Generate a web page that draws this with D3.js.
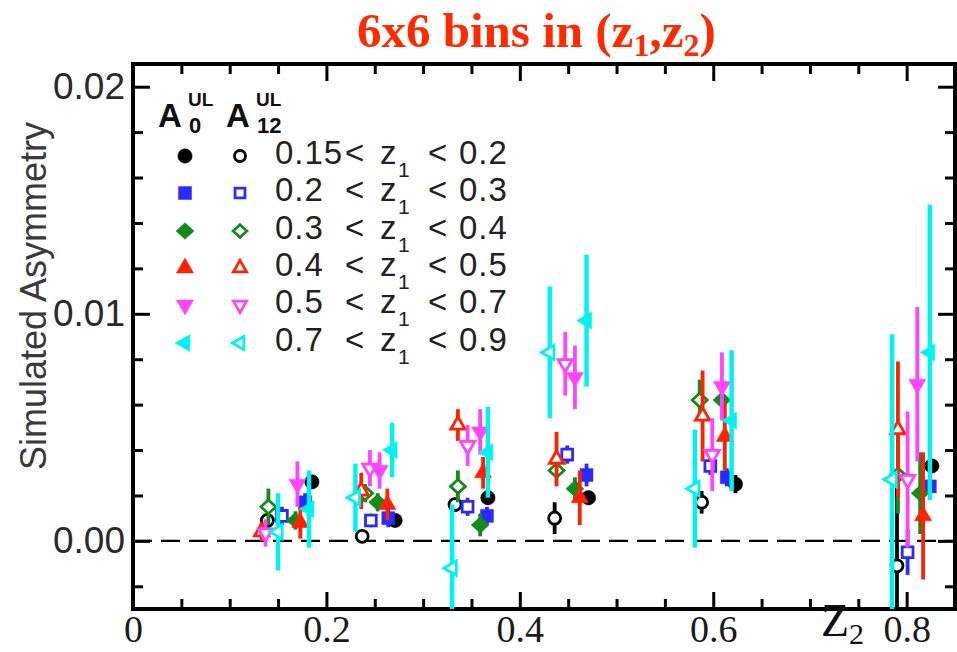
<!DOCTYPE html>
<html><head><meta charset="utf-8">
<script src="https://cdn.jsdelivr.net/npm/d3@7"></script>
<style>body{margin:0;background:#fff} svg{display:block}</style>
</head><body><svg id="c" width="957" height="652"></svg>
<script>
// ---------------- data ----------------
const z1Low  = ["0.15","0.2","0.3","0.4","0.5","0.7"];
const z1High = ["0.2","0.3","0.4","0.5","0.7","0.9"];
const seriesColors = ["#000000","#2b2bff","#138a1c","#ff2200","#ff44ff","#00f2f2"];
const seriesShapes = ["circle","square","diamond","up","down","left"];
const xTicks = [0, 0.2, 0.4, 0.6, 0.8];
const yTicks = [0, 0.01, 0.02];

// A0^UL (filled markers): z2 position, value, error for each z1 bin (rows) x 6 z2 bins
const a0Z2 = [
 [0.185,0.271,0.367,0.471,0.623,0.826],
 [0.178,0.264,0.366,0.469,0.614,0.824],
 [0.168,0.253,0.359,0.457,0.609,0.814],
 [0.173,0.263,0.362,0.462,0.612,0.817],
 [0.170,0.255,0.359,0.457,0.609,0.811],
 [0.182,0.268,0.367,0.469,0.619,0.824]];
const a0Val = [
 [0.0026,0.0009,0.0019,0.0019,0.0025,0.0033],
 [0.0017,0.0010,0.0011,0.0029,0.0028,0.0024],
 [0.0009,0.0017,0.0007,0.0023,0.0062,0.0021],
 [0.0008,0.0016,0.0030,0.0019,0.0046,0.0011],
 [0.0025,0.0031,0.0048,0.0072,0.0068,0.0069],
 [0.0014,0.0040,0.0039,0.0097,0.0053,0.0083]];
const a0Err = [
 [0.0002,0.0002,0.0003,0.0003,0.0004,0.0002],
 [0.0004,0.0004,0.0004,0.0005,0.0004,0.0004],
 [0.0004,0.0004,0.0005,0.0005,0.0003,0.0018],
 [0.0007,0.0007,0.0007,0.0012,0.0015,0.0028],
 [0.0010,0.0008,0.0010,0.0014,0.0015,0.0034],
 [0.0017,0.0012,0.0020,0.0029,0.0031,0.0065]];

// A12^UL (open markers)
const a12Z2 = [
 [0.139,0.237,0.333,0.436,0.588,0.790],
 [0.154,0.246,0.346,0.449,0.597,0.801],
 [0.140,0.240,0.336,0.438,0.586,0.791],
 [0.133,0.236,0.336,0.438,0.589,0.791],
 [0.137,0.245,0.346,0.447,0.599,0.801],
 [0.150,0.230,0.330,0.431,0.581,0.785]];
const a12Val = [
 [0.0009,0.0002,0.0016,0.0010,0.0017,-0.0011],
 [0.0011,0.0009,0.0015,0.0038,0.0033,-0.0005],
 [0.0015,0.0021,0.0024,0.0031,0.0062,0.0029],
 [0.0004,0.0022,0.0051,0.0036,0.0055,0.0049],
 [0.00035,0.0032,0.0042,0.0078,0.0038,0.0027],
 [0.0004,0.0019,-0.0012,0.0083,0.0023,0.0027]];
const a12Err = [
 [0.0002,0.0001,0.0003,0.0007,0.0005,0.0035],
 [0.0004,0.0003,0.0004,0.0004,0.0004,0.0010],
 [0.0008,0.0004,0.0007,0.0003,0.0009,0.0017],
 [0.0004,0.0008,0.0007,0.0012,0.0020,0.0030],
 [0.0006,0.0008,0.0009,0.0014,0.0016,0.0030],
 [0.0017,0.0015,0.0028,0.0029,0.0026,0.0064]];

// ---------------- drawing ----------------
const svg = d3.select("#c");
const L = 133, R = 955, T = 64, B = 609;
const x = d3.scaleLinear().domain([0, 0.85]).range([L, R]);
const y = d3.scaleLinear().domain([-0.003, 0.021]).range([B, T]);

svg.append("defs").append("clipPath").attr("id","plot")
  .append("rect").attr("x",L).attr("y",T).attr("width",R-L).attr("height",B-T);

// title
const title = svg.append("text").attr("x",357).attr("y",47)
  .attr("font-family","'Liberation Serif','Times New Roman',serif")
  .attr("font-weight","bold").attr("font-size",49).attr("fill","#ff2a00");
title.append("tspan").text("6x6 bins in (z");
title.append("tspan").attr("font-size",32).attr("dy",9).text("1");
title.append("tspan").attr("dy",-9).text(",z");
title.append("tspan").attr("font-size",32).attr("dy",9).text("2");
title.append("tspan").attr("dy",-9).text(")");

// zero dashed line
svg.append("line").attr("x1",L).attr("x2",R).attr("y1",y(0)).attr("y2",y(0))
  .attr("stroke","#000").attr("stroke-width",2.2).attr("stroke-dasharray","19,9");

// axes helpers
const minorX = d3.range(0, 0.851, 0.05).filter(v => Math.abs(v/0.2 - Math.round(v/0.2)) > 1e-6);
const minorY = d3.range(-0.002, 0.0211, 0.002).filter(v => Math.abs(v/0.01 - Math.round(v/0.01)) > 1e-6);

function styleAxis(g){
  g.select(".domain").remove();
  g.selectAll(".tick line").attr("stroke","#000").attr("stroke-width",3);
}
// bottom
svg.append("g").attr("transform",`translate(0,${B})`)
  .call(d3.axisBottom(x).tickValues(xTicks).tickSize(-17).tickSizeOuter(0).tickPadding(0)
        .tickFormat(d => d === 0 ? "0" : d3.format(".1f")(d)))
  .call(styleAxis)
  .call(g => g.selectAll("text").attr("font-family","'Liberation Serif','Times New Roman',serif")
        .attr("font-size",38).attr("fill","#1a1a1a").attr("y",33).attr("dy",0));
svg.append("g").attr("transform",`translate(0,${B})`)
  .call(d3.axisBottom(x).tickValues(minorX).tickSize(-10).tickFormat(""))
  .call(styleAxis);
// top
svg.append("g").attr("transform",`translate(0,${T})`)
  .call(d3.axisTop(x).tickValues(xTicks).tickSize(-17).tickFormat("")).call(styleAxis);
svg.append("g").attr("transform",`translate(0,${T})`)
  .call(d3.axisTop(x).tickValues(minorX).tickSize(-10).tickFormat("")).call(styleAxis);
// left
svg.append("g").attr("transform",`translate(${L},0)`)
  .call(d3.axisLeft(y).tickValues(yTicks).tickSize(-17).tickPadding(8).tickFormat(d3.format(".2f")))
  .call(styleAxis)
  .call(g => g.selectAll("text").attr("font-family","'Liberation Sans',Arial,sans-serif")
        .attr("font-size",37).attr("fill","#2a2a2a"));
svg.append("g").attr("transform",`translate(${L},0)`)
  .call(d3.axisLeft(y).tickValues(minorY).tickSize(-10).tickFormat("")).call(styleAxis);
// right
svg.append("g").attr("transform",`translate(${R},0)`)
  .call(d3.axisRight(y).tickValues(yTicks).tickSize(-17).tickFormat("")).call(styleAxis);
svg.append("g").attr("transform",`translate(${R},0)`)
  .call(d3.axisRight(y).tickValues(minorY).tickSize(-10).tickFormat("")).call(styleAxis);

// frame
svg.append("rect").attr("x",L).attr("y",T).attr("width",R-L).attr("height",B-T)
  .attr("fill","none").attr("stroke","#000").attr("stroke-width",4);

// axis titles
svg.append("text").attr("transform","translate(46,296) rotate(-90)").attr("text-anchor","middle")
  .attr("font-family","'Liberation Sans',Arial,sans-serif").attr("font-size",36).attr("fill","#3a3a3a")
  .text("Simulated Asymmetry");
const xt = svg.append("text").attr("x",821).attr("y",636)
  .attr("font-family","'Liberation Serif','Times New Roman',serif").attr("font-size",46).attr("fill","#111");
xt.append("tspan").text("Z");
xt.append("tspan").attr("font-size",30).attr("dy",8).text("2");

// marker shapes
function markerPath(shape, s){
  if (shape === "circle") return d3.symbol(d3.symbolCircle, Math.PI*s*s)();
  if (shape === "square") return d3.symbol(d3.symbolSquare, (1.8*s)*(1.8*s))();
  if (shape === "diamond"){
    const p = d3.path(); const w = s*1.25, h = s*1.15;
    p.moveTo(0,-h); p.lineTo(w,0); p.lineTo(0,h); p.lineTo(-w,0); p.closePath();
    return p.toString();
  }
  return d3.symbol(d3.symbolTriangle, 1.9*s*s*1.3)();
}
function rot(shape){ return shape==="down" ? 180 : shape==="left" ? -90 : 0; }

const plot = svg.append("g").attr("clip-path","url(#plot)");

function drawSeries(zs, vs, es, k, open){
  const pts = zs.map((z,i) => ({z, v: vs[i], e: es[i]}));
  const g = plot.append("g");
  g.selectAll("line").data(pts).join("line")
    .attr("x1", d => x(d.z)).attr("x2", d => x(d.z))
    .attr("y1", d => y(d.v - d.e)).attr("y2", d => y(d.v + d.e))
    .attr("stroke", seriesColors[k]).attr("stroke-width", k === 5 ? 4.5 : 3.8);
  const sh = seriesShapes[k];
  g.selectAll("path").data(pts).join("path")
    .attr("d", markerPath(sh, open ? 6 : 7.2))
    .attr("transform", d => `translate(${x(d.z)},${y(d.v)}) rotate(${rot(sh)})`)
    .attr("fill", open ? "#fff" : seriesColors[k])
    .attr("stroke", seriesColors[k]).attr("stroke-width", open ? 2.8 : 0.5);
}
for (let k = 0; k < 6; k++){
  drawSeries(a12Z2[k], a12Val[k], a12Err[k], k, true);
  drawSeries(a0Z2[k], a0Val[k], a0Err[k], k, false);
}

// legend
const sans = "'Liberation Sans',Arial,sans-serif";
const lg = svg.append("g");
function hdr(xA, sub){
  lg.append("text").attr("x",xA).attr("y",127).attr("font-family",sans).attr("font-weight","bold")
    .attr("font-size",33).attr("fill","#111").text("A");
  lg.append("text").attr("x",xA+30).attr("y",106).attr("font-family",sans).attr("font-weight","bold")
    .attr("font-size",19).attr("fill","#111").text("UL");
  lg.append("text").attr("x",xA+31).attr("y",133).attr("font-family",sans).attr("font-weight","bold")
    .attr("font-size",22).attr("fill","#111").text(sub);
}
hdr(158, "0"); hdr(226, "12");
const rowY = [152, 189, 227, 264, 301, 339];
z1Low.forEach((lo, k) => {
  const cy = rowY[k];
  const sh = seriesShapes[k];
  lg.append("path").attr("d", markerPath(sh, 7.2))
    .attr("transform", `translate(185,${cy+4}) rotate(${rot(sh)})`)
    .attr("fill", seriesColors[k]).attr("stroke", seriesColors[k]).attr("stroke-width",0.5);
  lg.append("path").attr("d", markerPath(sh, 5.5))
    .attr("transform", `translate(240,${cy+4}) rotate(${rot(sh)})`)
    .attr("fill", "#fff").attr("stroke", seriesColors[k]).attr("stroke-width",2.8);
  const t = (xx, txt, fs, dy, ls) => lg.append("text").attr("x",xx).attr("y",cy+12+(dy||0))
    .attr("font-family",sans).attr("font-size",fs).attr("fill","#222").attr("letter-spacing",ls||0).text(txt);
  t(275, lo, 33, 0, 1);
  t(345, "<", 33);
  t(380, "z", 33);
  t(398, "1", 21, 13);
  t(428, "<", 33);
  t(459, z1High[k], 33, 0, 1);
});
</script></body></html>
